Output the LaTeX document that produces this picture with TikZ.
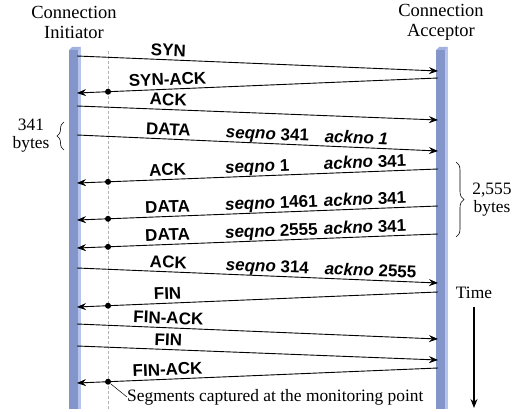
\documentclass[tikz,border=0pt]{standalone}
\usepackage{fontspec}
\setmainfont{Liberation Serif}
\newfontfamily\msgfont{Liberation Sans}
\usetikzlibrary{arrows.meta,decorations.pathreplacing}
\definecolor{mylifecolor}{HTML}{8496C9}
\definecolor{myedgecolor}{HTML}{B4C4EC}
\tikzset{
  msg/.style={line width=0.9pt, >={Stealth[length=9pt,width=7pt,inset=3pt]}},
  lbl/.style={sloped, above=3.5pt, inner sep=0pt, text depth=0pt, font=\msgfont\bfseries\fontsize{17pt}{17pt}\selectfont},
  seqlbl/.style={lbl, anchor=south west},
  dotmark/.style={circle, fill=black, inner sep=0pt, minimum size=6pt},
  note/.style={inner sep=0pt, font=\fontsize{17.4pt}{18pt}\selectfont},
  hdr/.style={inner sep=0pt, align=center, font=\fontsize{18.5pt}{20pt}\selectfont},
  bytebrace/.style={decorate, line width=0.6pt},
}

\begin{document}
\begin{tikzpicture}[x=1pt, y=-1pt]%
\useasboundingbox (0,0) rectangle (517,412);%
% lifelines
\fill[mylifecolor] (69,50) rectangle (78,409);%
\fill[myedgecolor] (78,48) rectangle (81,409);%
\fill[myedgecolor!60!mylifecolor] (69,50) -- (72,47) -- (81,47) -- (78,50) -- cycle;%
\fill[mylifecolor] (436,50) rectangle (445,409);%
\fill[myedgecolor] (445,48) rectangle (448,409);%
\fill[myedgecolor!60!mylifecolor] (436,50) -- (439,47) -- (448,47) -- (445,50) -- cycle;%
\node[hdr] (init) at (74,22) {Connection\\Initiator};%
\node[hdr] (acc) at (441,22) {Connection\\Acceptor};%
% monitoring point
\draw[gray!60, line width=0.6pt, dash pattern=on 3pt off 2pt] (108,51) -- (108,409);%
% ends of the segments
\coordinate (i1) at (77,56);   \coordinate (a1) at (438,71);%
\coordinate (i2) at (77,93);   \coordinate (a2) at (438,78);%
\coordinate (i3) at (77,106);  \coordinate (a3) at (438,120);%
\coordinate (i4) at (77,135);  \coordinate (a4) at (438,151);%
\coordinate (i5) at (77,183);  \coordinate (a5) at (438,169);%
\coordinate (i6) at (77,220);  \coordinate (a6) at (438,206);%
\coordinate (i7) at (77,248);  \coordinate (a7) at (438,234);%
\coordinate (i8) at (77,268);  \coordinate (a8) at (438,283);%
\coordinate (i9) at (77,307);  \coordinate (a9) at (438,292);%
\coordinate (i10) at (77,324); \coordinate (a10) at (438,339);%
\coordinate (i11) at (77,346); \coordinate (a11) at (438,360);%
\coordinate (i12) at (77,383); \coordinate (a12) at (438,368);%
% segments
\draw[msg,->] (i1) -- (a1) node[lbl,pos=0.252] {SYN};%
\draw[msg,<-] (i2) -- (a2) node[dotmark,pos=0.086] (d2) {} node[lbl,pos=0.252] {SYN-ACK};%
\draw[msg,->] (i3) -- (a3) node[lbl,pos=0.252] {ACK};%
\draw[msg,->] (i4) -- (a4) node[lbl,pos=0.252] {DATA}%
  node[seqlbl,pos=0.41] {\textit{seqno} 341} node[seqlbl,pos=0.684] {\textit{ackno 1}};%
\draw[msg,<-] (i5) -- (a5) node[dotmark,pos=0.086] (d5) {} node[lbl,pos=0.252] {ACK}%
  node[seqlbl,pos=0.41] {\textit{seqno} 1} node[seqlbl,pos=0.684] {\textit{ackno} 341};%
\draw[msg,<-] (i6) -- (a6) node[dotmark,pos=0.086] (d6) {} node[lbl,pos=0.252] {DATA}%
  node[seqlbl,pos=0.41] {\textit{seqno} 1461} node[seqlbl,pos=0.684] {\textit{ackno} 341};%
\draw[msg,<-] (i7) -- (a7) node[dotmark,pos=0.086] (d7) {} node[lbl,pos=0.252] {DATA}%
  node[seqlbl,pos=0.41] {\textit{seqno} 2555} node[seqlbl,pos=0.684] {\textit{ackno} 341};%
\draw[msg,->] (i8) -- (a8) node[lbl,pos=0.252] {ACK}%
  node[seqlbl,pos=0.41] {\textit{seqno} 314} node[seqlbl,pos=0.684] {\textit{ackno} 2555};%
\draw[msg,<-] (i9) -- (a9) node[dotmark,pos=0.086] (d9) {} node[lbl,pos=0.252] {FIN};%
\draw[msg,->] (i10) -- (a10) node[lbl,pos=0.252] {FIN-ACK};%
\draw[msg,->] (i11) -- (a11) node[lbl,pos=0.252] {FIN};%
\draw[msg,<-] (i12) -- (a12) node[dotmark,pos=0.086] (d12) {} node[lbl,pos=0.252] {FIN-ACK};%
% notes
\node[note, anchor=west] (capnote) at (127,397) {Segments captured at the monitoring point};%
\draw[line width=0.5pt] (d12) -- (capnote.west);%
\draw[bytebrace, decoration={brace, amplitude=7pt}] (64,150) -- (64,122);%
\node[note, align=center] (b341) at (31,136) {341\\bytes};%
\draw[bytebrace, decoration={brace, amplitude=8pt}] (456,162) -- (456,237);%
\node[note, align=center] (b2555) at (492,200) {2,555\\bytes};%
\node[note] (time) at (474,293) {Time};%
\coordinate (tstart) at (474,307);%
\coordinate (tend) at (474,408);%
\draw[msg,line width=1.2pt,->] (tstart) -- (tend);%
\end{tikzpicture}
\end{document}
